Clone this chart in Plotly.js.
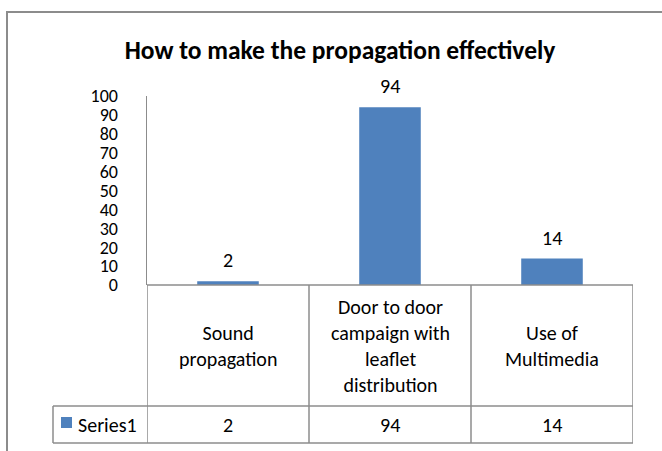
<!DOCTYPE html>
<html>
<head>
<meta charset="utf-8">
<script src="https://cdn.plot.ly/plotly-3.0.1.min.js"></script>
<style>
  html, body { margin: 0; padding: 0; background: #fff; }
  #chart { width: 662px; height: 451px; }
</style>
</head>
<body>
<div id="chart"></div>
<script>
// Survey: how to make the propagation effective
const categories = ["Sound propagation", "Door to door campaign with leaflet distribution", "Use of Multimedia"];
const tableLabels = ["Sound<br>propagation", "Door to door<br>campaign with<br>leaflet<br>distribution", "Use of<br>Multimedia"];
const series1 = [2, 94, 14];
const seriesName = "Series1";
const yTicks = [0, 10, 20, 30, 40, 50, 60, 70, 80, 90, 100];

const FONT = "Calibri, Carlito, Lato, 'Open Sans', sans-serif";
const FS = 20;
const BAR = "#4F81BD";
const LINE = "#8c8c8c";

// plot area in pixels: x 147..633, y 96..285
const W = 662, H = 451, L = 147, R = 633, T = 96, B = 285;
const px = v => (v - L) / (R - L);        // pixel x -> paper x
const py = v => (B - v) / (B - T);        // pixel y -> paper y

const rowTop = py(B), rowMid = py(406), rowBot = py(443);

const shapes = [];
const line = (x0, y0, x1, y1, xref, w) => shapes.push({
  type: "line", xref: xref || "paper", yref: "paper",
  x0, y0, x1, y1, line: { color: LINE, width: w || 1.5 }, layer: "above"
});

// outer chart frame
line(px(7), py(12), px(7), py(451), "paper", 2);
line(px(6), py(12), px(662), py(12), "paper", 2);

// data table grid
line(0, rowTop, 1, rowTop);
line(px(53), rowMid, 1, rowMid);
line(px(53), rowBot, 1, rowBot);
line(px(53), rowMid, px(53), rowBot);
categories.forEach((c, i) => {
  if (i === 0) line(i - 0.5, rowTop, i - 0.5, rowBot, "x");
  line(i + 0.5, rowTop, i + 0.5, rowBot, "x");
});

const annotations = [];
categories.forEach((c, i) => {
  // value label above each bar
  annotations.push({
    x: c, y: series1[i], xref: "x", yref: "y", text: String(series1[i]),
    showarrow: false, yanchor: "bottom", yshift: 7,
    font: { family: FONT, size: FS, color: "#000" }
  });
  // category cell
  annotations.push({
    x: c, y: (rowTop + rowMid) / 2, xref: "x", yref: "paper", text: tableLabels[i],
    showarrow: false, yanchor: "middle", align: "center",
    font: { family: FONT, size: FS, color: "#000" }
  });
  // value cell
  annotations.push({
    x: c, y: (rowMid + rowBot) / 2, xref: "x", yref: "paper", text: String(series1[i]),
    showarrow: false, yanchor: "middle",
    font: { family: FONT, size: FS, color: "#000" }
  });
});

// legend key in the table's first column
shapes.push({
  type: "rect", xref: "paper", yref: "paper",
  x0: px(61), x1: px(72), y0: py(428), y1: py(417),
  fillcolor: BAR, line: { width: 0 }, layer: "above"
});
annotations.push({
  x: px(76), y: (rowMid + rowBot) / 2, xref: "paper", yref: "paper", text: seriesName,
  showarrow: false, xanchor: "left", yanchor: "middle",
  font: { family: FONT, size: FS, color: "#000" }
});

const data = [{
  type: "bar",
  x: categories,
  y: series1,
  name: seriesName,
  marker: { color: BAR },
  width: 0.38,
  hoverinfo: "x+y"
}];

const layout = {
  width: W, height: H,
  margin: { l: L, r: W - R, t: T, b: H - B, pad: 0 },
  paper_bgcolor: "#fff", plot_bgcolor: "#fff",
  showlegend: false,
  title: {
    text: "<b>How to make the propagation effectively</b>",
    x: 340 / W, xanchor: "center",
    y: 1 - 50 / H, yref: "container", yanchor: "middle",
    font: { family: FONT, size: 25.5, color: "#000" }
  },
  xaxis: {
    type: "category",
    range: [-0.5, 2.5],
    showticklabels: false,
    showgrid: false, zeroline: false,
    showline: false, ticks: ""
  },
  yaxis: {
    range: [0, 100],
    tickvals: yTicks,
    ticks: "outside", ticklen: 24, tickcolor: "rgba(0,0,0,0)",
    showgrid: false, zeroline: false,
    showline: true, linecolor: LINE, linewidth: 1.5,
    tickfont: { family: FONT, size: 18, color: "#000" }
  },
  shapes, annotations
};

Plotly.newPlot("chart", data, layout, { displayModeBar: false, staticPlot: true });
</script>
</body>
</html>
